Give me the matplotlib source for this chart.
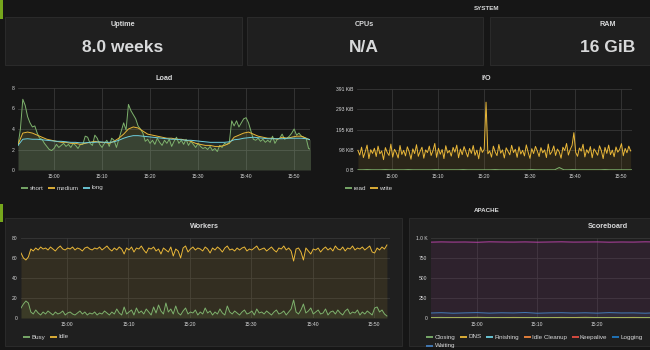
import matplotlib.pyplot as plt
import numpy as np
from matplotlib.patches import Rectangle
from matplotlib.lines import Line2D

plt.rcParams['font.family'] = ['Liberation Sans', 'DejaVu Sans']

# ---- data (minutes relative to 15:00) ----
time_labels = ['15:00', '15:10', '15:20', '15:30', '15:40', '15:50']
time_ticks = [0, 10, 20, 30, 40, 50]

stat_titles = ['Uptime', 'CPUs', 'RAM']
stat_values = ['8.0 weeks', 'N/A', '16 GiB']

# load, short every 30s, medium/long every minute, starting 14:52:30
load_short = [2.4, 4.0, 6.9, 6.3, 5.2, 4.6, 4.2, 4.3, 3.6, 3.1,
              3.0, 2.6, 2.3, 2.0, 1.9, 2.1, 2.5, 2.2, 2.4, 2.6,
              2.3, 2.5, 2.2, 2.6, 2.4, 2.1, 2.5, 2.5, 3.3, 3.2,
              2.6, 2.4, 3.4, 3.1, 2.5, 2.2, 2.6, 2.9, 2.3, 3.1,
              2.9, 2.2, 3.0, 3.8, 4.6, 3.9, 6.4, 5.8, 5.4, 5.0,
              4.3, 4.0, 3.6, 2.8, 3.0, 2.6, 2.9, 2.5, 3.1, 2.7,
              2.4, 2.9, 2.6, 3.0, 2.3, 2.8, 3.2, 2.6, 2.9, 2.5,
              3.0, 2.4, 2.8, 2.5, 2.2, 2.6, 2.3, 2.1, 2.2, 2.0,
              2.3, 1.9, 2.1, 1.8, 2.4, 2.2, 2.6, 2.5, 2.7, 4.8,
              4.3, 4.8, 4.2, 4.6, 5.0, 5.1, 4.6, 3.8, 3.0, 2.9,
              3.1, 2.8, 3.0, 2.7, 2.9, 2.7, 3.3, 2.6, 3.0, 3.1,
              3.5, 3.0, 3.1, 3.3, 3.6, 4.0, 3.4, 3.6, 3.3, 3.2,
              3.1, 2.1, 2.0]
load_medium = [2.5, 3.6, 3.7, 3.6, 3.4, 3.2, 3.0, 2.9, 2.8, 2.7,
               2.7, 2.6, 2.6, 2.5, 2.6, 2.7, 2.8, 2.7, 2.7, 2.6,
               2.8, 3.1, 3.5, 4.0, 4.2, 4.1, 3.8, 3.5, 3.4, 3.3,
               3.2, 3.1, 3.1, 3.0, 3.0, 2.9, 2.8, 2.6, 2.5, 2.4,
               2.4, 2.3, 2.3, 2.4, 2.6, 3.2, 3.4, 3.6, 3.7, 3.5,
               3.3, 3.2, 3.1, 3.1, 3.0, 3.2, 3.1, 3.2, 3.3, 3.3,
               3.1, 2.9]
load_long = [2.4, 3.0, 3.05, 3.0, 3.0, 2.95, 2.9, 2.85, 2.8, 2.8,
             2.75, 2.7, 2.7, 2.65, 2.65, 2.7, 2.7, 2.75, 2.7, 2.7,
             2.75, 2.9, 3.1, 3.25, 3.35, 3.35, 3.3, 3.25, 3.2, 3.15,
             3.1, 3.05, 3.0, 3.0, 2.95, 2.9, 2.9, 2.85, 2.8, 2.75,
             2.7, 2.7, 2.7, 2.7, 2.75, 2.95, 3.0, 3.1, 3.15, 3.2,
             3.15, 3.1, 3.05, 3.05, 3.05, 3.05, 3.1, 3.1, 3.1, 3.1,
             3.05, 2.95]

# I/O in KiB, write every 24s, read every minute
io_write = [95, 72, 110, 60, 88, 120, 55, 98, 80, 105,
            65, 115, 78, 92, 50, 108, 85, 70, 125, 62,
            100, 83, 58, 118, 75, 95, 68, 112, 88, 52,
            102, 79, 122, 66, 90, 110, 57, 97, 84, 115,
            70, 93, 128, 61, 105, 76, 99, 55, 117, 82,
            94, 67, 109, 86, 120, 59, 101, 74, 113, 88,
            63, 104, 80, 118, 71, 96, 54, 111, 85, 100,
            327, 78, 92, 62, 115, 87, 69, 123, 81, 97,
            58, 107, 90, 73, 119, 84, 100, 61, 112, 77,
            95, 68, 121, 86, 56, 103, 79, 114, 92, 65,
            108, 83, 97, 60, 125, 75, 89, 116, 70, 101,
            87, 57, 110, 94, 128, 72, 99, 118, 180, 85,
            66, 106, 91, 124, 63, 98, 81, 113, 59, 102,
            88, 71, 117, 93, 55, 109, 80, 120, 74, 96,
            64, 111, 86, 99, 127, 69, 104, 83, 115, 92]
io_read = [1, 1, 2, 1, 1, 1, 2, 1, 1, 1, 1, 2, 1, 1, 1, 1, 1, 2, 1, 1,
           1, 1, 1, 2, 1, 1, 1, 1, 1, 1, 2, 1, 1, 1, 1, 1, 1, 1, 2, 1,
           1, 1, 1, 1, 12, 1, 1, 2, 1, 1, 1, 1, 1, 1, 2, 1, 1, 1, 1, 1, 1]
io_tick_labels = ['0 B', '98 KiB', '195 KiB', '293 KiB', '391 KiB']

# apache workers every 24s
workers_idle = [65, 60, 58, 61, 69, 67, 70, 68, 71, 69,
                70, 68, 71, 69, 67, 70, 72, 69, 68, 70,
                69, 71, 68, 70, 69, 67, 70, 71, 69, 68,
                70, 69, 71, 68, 70, 72, 69, 67, 70, 68,
                71, 69, 64, 70, 68, 71, 66, 70, 69, 72,
                68, 65, 70, 69, 71, 67, 69, 64, 70, 68,
                66, 71, 62, 69, 67, 60, 70, 72, 66, 69,
                71, 68, 70, 69, 67, 71, 69, 65, 70, 68,
                71, 69, 66, 70, 72, 68, 69, 67, 70, 68,
                70, 71, 67, 69, 68, 70, 72, 68, 69, 70,
                67, 69, 71, 68, 66, 70, 69, 72, 68, 70,
                67, 57, 69, 70, 66, 58, 70, 67, 64, 69,
                68, 70, 66, 69, 71, 68, 70, 67, 72, 69,
                68, 71, 67, 70, 69, 72, 68, 70, 69, 71,
                68, 70, 72, 66, 65, 70, 68, 71, 69, 73]
workers_busy = [10, 14, 17, 15, 6, 4, 8, 5, 3, 6,
                4, 7, 5, 3, 6, 4, 5, 7, 3, 5,
                6, 4, 3, 5, 7, 4, 6, 3, 5, 4,
                6, 3, 5, 4, 7, 5, 3, 6, 4, 9,
                5, 3, 11, 4, 6, 8, 3, 10, 5, 7,
                4, 9, 6, 3, 11, 5, 13, 7, 4, 15,
                6, 9, 4, 12, 5, 3, 7, 10, 4, 6,
                5, 8, 3, 6, 4, 10, 5, 7, 3, 6,
                4, 9, 5, 3, 12, 6, 4, 7, 5, 3,
                6, 8, 4, 5, 7, 3, 9, 5, 6, 4,
                7, 5, 3, 6, 8, 4, 5, 7, 3, 6,
                9, 18, 6, 4, 8, 14, 5, 7, 10, 4,
                6, 8, 4, 5, 9, 3, 6, 7, 4, 8,
                5, 3, 7, 9, 4, 6, 5, 8, 3, 6,
                4, 7, 5, 3, 10, 11, 6, 8, 4, 2]

# scoreboard every 2 minutes from 14:52
sb_open = [948, 951, 949, 950, 947, 952, 950, 949, 951, 948, 950, 952, 949, 950, 951, 948,
           950, 949, 952, 950, 948, 951, 950, 949, 950, 952, 948, 950, 951, 949, 950]
sb_waiting = [62, 66, 60, 64, 67, 61, 65, 63, 68, 60, 64, 66, 62, 65, 61, 67,
              63, 64, 60, 66, 62, 65, 68, 61, 64, 63, 66, 60, 65, 62, 64]
sb_dns = [6, 7, 5, 6, 8, 6, 5, 7, 6, 6, 5, 7, 6, 8, 6, 5,
          6, 7, 6, 5, 7, 6, 6, 8, 5, 6, 7, 6, 5, 6, 7]
sb_closing = [2, 3, 1, 2, 2, 3, 2, 1, 2, 3, 2, 2, 1, 2, 3, 2,
              2, 1, 3, 2, 2, 1, 2, 3, 2, 2, 1, 2, 2, 3, 2]
sb_legend = ['Closing', 'DNS', 'Finishing', 'Idle Cleanup', 'Keepalive', 'Logging']

# ---- style ----
W, H = 650, 350
BG = '#161616'
PANEL = '#1f1f1f'
BORDER = '#2b2b2b'
TXT = '#d8d9da'
GRID = '#383838'
GREEN, YELLOW, CYAN = '#7eb26d', '#eab839', '#6ed0e0'
ORANGE, RED, BLUE = '#ef843c', '#e24d42', '#1f78c1'
PURPLE, WAITBLUE = '#ba43a9', '#447ebc'

fig = plt.figure(figsize=(6.5, 3.5), dpi=100, facecolor=BG)


def rect(x0, y0, x1, y1, fc, ec='none'):
    fig.add_artist(Rectangle((x0 / W, 1 - y1 / H), (x1 - x0) / W, (y1 - y0) / H,
                             transform=fig.transFigure, facecolor=fc, edgecolor=ec,
                             lw=0.7, zorder=0))


def ftext(x, y, s, **kw):
    kw.setdefault('color', TXT)
    kw.setdefault('ha', 'center')
    kw.setdefault('va', 'center')
    return fig.text(x / W, 1 - y / H, s, **kw)


def graph(x0, y0, x1, y1, xlim, nticks=6):
    ax = fig.add_axes([x0 / W, 1 - y1 / H, (x1 - x0) / W, (y1 - y0) / H])
    ax.set_facecolor('none')
    for s in ax.spines.values():
        s.set_visible(False)
    ax.grid(True, color=GRID, lw=0.6)
    ax.set_axisbelow(True)
    ax.tick_params(length=0, colors=TXT, labelsize=3.6, pad=2.6)
    ax.set_xlim(*xlim)
    ax.set_xticks(time_ticks[:nticks])
    ax.set_xticklabels(time_labels[:nticks])
    return ax


def series(ax, t0, step, values, color, fill=0.1):
    t = t0 + step * np.arange(len(values))
    ax.fill_between(t, values, 0, color=color, alpha=fill, lw=0)
    ax.plot(t, values, color=color, lw=0.7)


def legend_row(x, y, items, fs=4.5):
    r = fig.canvas.get_renderer()
    for label, color in items:
        fig.add_artist(Line2D([x / W, (x + 7) / W], [1 - y / H, 1 - y / H],
                              transform=fig.transFigure, color=color, lw=1.3,
                              solid_capstyle='butt'))
        t = ftext(x + 8.5, y, label, ha='left', fontsize=fs)
        x += 8.5 + t.get_window_extent(r).width + 4.5


# row markers and headers
rect(0, 0, 3, 19, '#76a61c')
rect(0, 204, 3, 222, '#76a61c')
ftext(487, 8, 'SYSTEM', fontsize=4.5, fontweight='bold')
ftext(487, 211, 'APACHE', fontsize=4.5, fontweight='bold')

# singlestat panels
for (x0, x1, cx), title, value in zip([(5, 242, 123), (247, 483, 364), (490, 726, 608)],
                                       stat_titles, stat_values):
    rect(x0, 17, x1, 65, PANEL, BORDER)
    ftext(cx, 25, title, fontsize=5.2, fontweight='bold')
    ftext(cx, 47.5, value, fontsize=12.5, fontweight='bold')

# Load
ftext(164, 78, 'Load', fontsize=5.2, fontweight='bold')
ax = graph(18, 88, 310, 170, (-7.5, 53.3))
series(ax, -7.5, 0.5, load_short, GREEN)
series(ax, -7.5, 1.0, load_medium, YELLOW)
series(ax, -7.5, 1.0, load_long, CYAN)
ax.set_ylim(0, 8)
ax.set_yticks([0, 2, 4, 6, 8])
legend_row(21, 188, [('short', GREEN), ('medium', YELLOW), ('long', CYAN)])

# I/O
ftext(486, 79, 'I/O', fontsize=5.2, fontweight='bold')
ax = graph(357, 89, 632, 170, (-7.7, 52.4))
series(ax, -7.5, 1.0, io_read, GREEN)
series(ax, -7.5, 0.4, io_write, YELLOW)
ax.set_ylim(0, 390.6)
ax.set_yticks([0, 97.66, 195.3, 293, 390.6])
ax.set_yticklabels(io_tick_labels)
legend_row(345, 188, [('read', GREEN), ('write', YELLOW)])

# Workers
rect(5, 218, 402, 346, PANEL, BORDER)
ftext(204, 226, 'Workers', fontsize=5.2, fontweight='bold')
ax = graph(21, 238, 390, 318, (-7.5, 52.6))
series(ax, -7.5, 0.4, workers_busy, GREEN)
series(ax, -7.5, 0.4, workers_idle, YELLOW)
ax.set_ylim(0, 80)
ax.set_yticks([0, 20, 40, 60, 80])
legend_row(23, 337, [('Busy', GREEN), ('Idle', YELLOW)])

# Scoreboard (cut off by the screenshot edge, only first ticks visible)
rect(409, 218, 740, 346, PANEL, BORDER)
ftext(608, 226, 'Scoreboard', fontsize=5.2, fontweight='bold')
ax = graph(431, 238, 793, 318, (-7.7, 52.6), nticks=3)
series(ax, -8, 2.0, sb_open, PURPLE)
series(ax, -8, 2.0, sb_waiting, WAITBLUE)
series(ax, -8, 2.0, sb_dns, YELLOW)
series(ax, -8, 2.0, sb_closing, GREEN)
ax.set_ylim(0, 1000)
ax.set_yticks([0, 250, 500, 750, 1000])
ax.set_yticklabels(['0', '250', '500', '750', '1.0 K'])
legend_row(426, 337, list(zip(sb_legend, [GREEN, YELLOW, CYAN, ORANGE, RED, BLUE])))
legend_row(426, 346, [('Waiting', WAITBLUE)])

fig.savefig('out.png', dpi=100, facecolor=BG)
